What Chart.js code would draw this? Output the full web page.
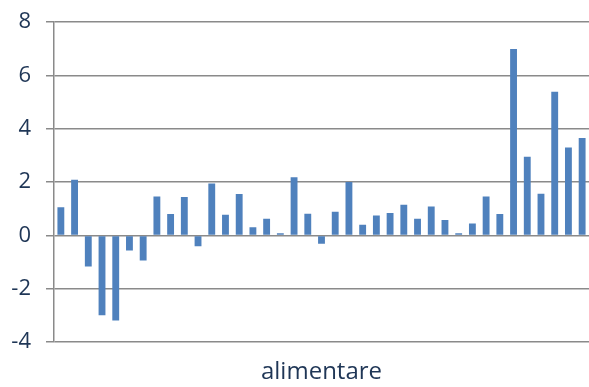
<!DOCTYPE html>
<html lang="it">
<head>
    <meta charset="UTF-8">
    <title>alimentare</title>
    <script src="https://cdn.jsdelivr.net/npm/chart.js"></script>
    <style>
        html, body { margin: 0; padding: 0; background: #fff; }
        #wrap { width: 589px; height: 387px; }
    </style>
</head>
<body>
    <div id="wrap"><canvas id="chart"></canvas></div>
    <script>
        // one bar per period
        const labels = [
            '1', '2', '3', '4', '5', '6', '7', '8', '9', '10',
            '11', '12', '13', '14', '15', '16', '17', '18', '19', '20',
            '21', '22', '23', '24', '25', '26', '27', '28', '29', '30',
            '31', '32', '33', '34', '35', '36', '37', '38', '39'
        ];
        const values = [
            1.06, 2.09, -1.16, -2.99, -3.19, -0.56, -0.94, 1.46, 0.80, 1.44,
            -0.40, 1.95, 0.78, 1.55, 0.31, 0.63, 0.08, 2.18, 0.81, -0.31,
            0.89, 2.00, 0.40, 0.75, 0.84, 1.15, 0.63, 1.09, 0.58, 0.08,
            0.45, 1.46, 0.80, 6.99, 2.95, 1.56, 5.39, 3.30, 3.65
        ];
        const yTicks = [-4, -2, 0, 2, 4, 6, 8];
        const seriesName = 'alimentare';

        const textColor = '#1f3656';
        const gridColor = '#8a8a8a';

        new Chart(document.getElementById('chart'), {
            type: 'bar',
            data: {
                labels: labels,
                datasets: [{
                    label: seriesName,
                    data: values,
                    backgroundColor: '#4f81bd',
                    borderWidth: 0,
                    barPercentage: 0.5,
                    categoryPercentage: 1.0
                }]
            },
            options: {
                responsive: true,
                maintainAspectRatio: false,
                animation: false,
                layout: { padding: 0 },
                plugins: {
                    legend: { display: false },
                    tooltip: { enabled: false }
                },
                scales: {
                    x: {
                        grid: { display: false },
                        border: { display: false },
                        ticks: { display: false },
                        title: {
                            display: true,
                            text: seriesName,
                            color: textColor,
                            font: { family: 'Open Sans', size: 24 },
                            padding: { top: 8, bottom: 0 }
                        }
                    },
                    y: {
                        min: yTicks[0],
                        max: yTicks[yTicks.length - 1],
                        afterBuildTicks: axis => { axis.ticks = yTicks.map(v => ({ value: v })); },
                        afterFit: axis => {
                            axis.width = 54;
                            axis.paddingTop = 22;   // put the 8 line where the reference has it
                            axis.paddingBottom = 0;
                        },
                        grid: {
                            color: gridColor,
                            lineWidth: 1.5,
                            tickLength: 8,
                            drawTicks: true
                        },
                        border: { display: true, color: gridColor, width: 1.5 },
                        ticks: {
                            color: textColor,
                            padding: 15,
                            font: { family: 'Open Sans', size: 22 }
                        }
                    }
                }
            }
        });
    </script>
</body>
</html>
